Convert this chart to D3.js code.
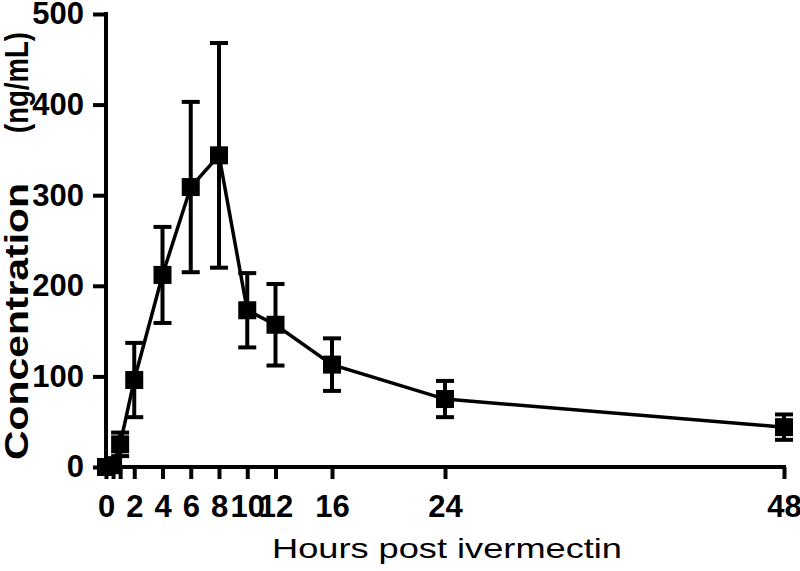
<!DOCTYPE html>
<html><head><meta charset="utf-8">
<script src="https://cdn.jsdelivr.net/npm/d3@7"></script>
<style>
body{margin:0;background:#fff}
svg{display:block}
text{font-family:"Liberation Sans",Arial,sans-serif;fill:#000}
</style></head>
<body><svg id="c" width="800" height="571"></svg>
<script>
const hours = [0, 0.5, 1, 2, 4, 6, 8, 10, 12, 16, 24, 48];
const meanConc = [0, 2, 25, 96, 212, 309, 344, 173, 157, 113, 75, 44];
const sdConc = [0, 0, 13, 41, 53, 94, 124, 41, 45, 29, 20, 14];
const xTickLabels = [0, 2, 4, 6, 8, 10, 12, 16, 24, 48];
const yTicks = [0, 100, 200, 300, 400, 500];
const xTitle = "Hours post ivermectin";
const yTitleA = "Concentration";
const yTitleB = "(ng/mL)";

const svg = d3.select("#c");
const x = d3.scaleLinear().domain([0, 48]).range([106, 784]);
const y = d3.scaleLinear().domain([0, 500]).range([467, 14]);

// x axis
const xa = svg.append("g").attr("transform", `translate(0,${y(0)})`)
  .call(d3.axisBottom(x).tickValues(hours).tickSize(12).tickSizeOuter(0).tickPadding(16)
    .tickFormat(d => xTickLabels.includes(d) ? d : ""));
xa.select(".domain").attr("stroke-width", 4).attr("d", `M${x(0)-2},0H${x(48)+2}`);
xa.selectAll(".tick line").attr("stroke-width", 4);
xa.selectAll(".tick text").attr("font-size", 31).attr("font-weight", "bold")
  .attr("font-family", "Liberation Sans, Arial, sans-serif").attr("fill", "#000");

// y axis
const ya = svg.append("g").attr("transform", `translate(${x(0)},0)`)
  .call(d3.axisLeft(y).tickValues(yTicks).tickSize(13).tickSizeOuter(0).tickPadding(9));
ya.select(".domain").attr("stroke-width", 4).attr("d", `M0,${y(0)+2}V${y(500)-2}`);
ya.selectAll(".tick line").attr("stroke-width", 4);
ya.selectAll(".tick text").attr("font-size", 31).attr("font-weight", "bold")
  .attr("font-family", "Liberation Sans, Arial, sans-serif").attr("fill", "#000");

const data = hours.map((h, i) => ({h, m: meanConc[i], s: sdConc[i]}));

// line
svg.append("path").datum(data)
  .attr("fill", "none").attr("stroke", "#000").attr("stroke-width", 3.5)
  .attr("d", d3.line().x(d => x(d.h)).y(d => y(d.m)));

// error bars
const eb = svg.append("g").attr("stroke", "#000").attr("stroke-width", 4).attr("fill", "none");
data.filter(d => d.s > 0).forEach(d => {
  eb.append("line").attr("x1", x(d.h)).attr("x2", x(d.h)).attr("y1", y(d.m + d.s)).attr("y2", y(d.m - d.s));
  eb.append("line").attr("x1", x(d.h) - 9).attr("x2", x(d.h) + 9).attr("y1", y(d.m + d.s)).attr("y2", y(d.m + d.s));
  eb.append("line").attr("x1", x(d.h) - 9).attr("x2", x(d.h) + 9).attr("y1", y(d.m - d.s)).attr("y2", y(d.m - d.s));
});

// markers
svg.append("g").selectAll("rect").data(data).join("rect")
  .attr("x", d => x(d.h) - 9).attr("y", d => y(d.m) - 9)
  .attr("width", 18).attr("height", 18).attr("fill", "#000");

// titles
svg.append("text").attr("x", 447).attr("y", 558).attr("text-anchor", "middle")
  .attr("font-size", 28).attr("textLength", 350).attr("lengthAdjust", "spacingAndGlyphs")
  .text(xTitle);
svg.append("text").attr("transform", "translate(28,460) rotate(-90)")
  .attr("font-size", 34).attr("font-weight", "bold")
  .attr("textLength", 277).attr("lengthAdjust", "spacingAndGlyphs").text(yTitleA);
svg.append("text").attr("transform", "translate(28,133) rotate(-90)")
  .attr("font-size", 34).attr("font-weight", "bold")
  .attr("textLength", 101).attr("lengthAdjust", "spacingAndGlyphs").text(yTitleB);
</script></body></html>
